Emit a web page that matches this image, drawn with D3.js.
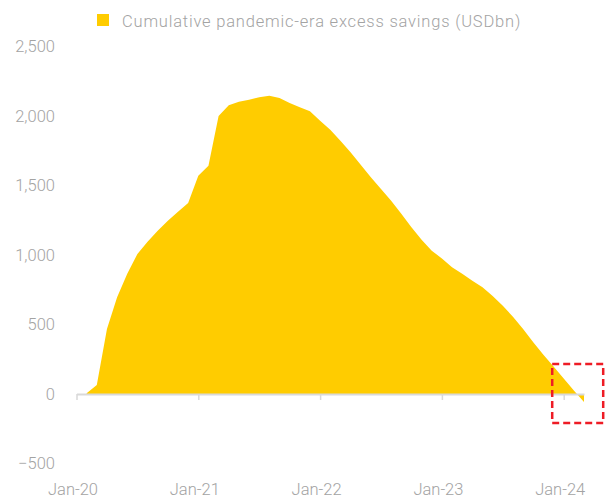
<!DOCTYPE html>
<html>
<head>
<meta charset="utf-8">
<script src="https://cdn.jsdelivr.net/npm/d3@7"></script>
<style>
  html, body { margin: 0; padding: 0; background: #fff; }
  svg text { font-family: Roboto, "Liberation Sans", sans-serif; font-weight: 300; fill: #a3a3a3; }
</style>
</head>
<body>
<svg id="chart" width="605" height="499"></svg>
<script>
// Monthly cumulative excess savings, Feb-2020 .. Mar-2024 (USD bn)
const months = [
  "2020-02","2020-03","2020-04","2020-05","2020-06","2020-07","2020-08","2020-09","2020-10","2020-11","2020-12",
  "2021-01","2021-02","2021-03","2021-04","2021-05","2021-06","2021-07","2021-08","2021-09","2021-10","2021-11","2021-12",
  "2022-01","2022-02","2022-03","2022-04","2022-05","2022-06","2022-07","2022-08","2022-09","2022-10","2022-11","2022-12",
  "2023-01","2023-02","2023-03","2023-04","2023-05","2023-06","2023-07","2023-08","2023-09","2023-10","2023-11","2023-12",
  "2024-01","2024-02","2024-03"
];
const savings = [
  5, 65, 468, 696, 865, 1007, 1095, 1175, 1247, 1312, 1374,
  1570, 1642, 2000, 2077, 2103, 2117, 2134, 2146, 2129, 2094, 2063, 2034,
  1966, 1901, 1822, 1739, 1650, 1559, 1474, 1391, 1297, 1199, 1110, 1031,
  975, 911, 865, 815, 768, 705, 635, 555, 468, 372, 283, 197,
  112, 25, -58
];
const xTickLabels = ["Jan-20", "Jan-21", "Jan-22", "Jan-23", "Jan-24"];
const yTicks = [-500, 0, 500, 1000, 1500, 2000, 2500];
const seriesName = "Cumulative pandemic-era excess savings (USDbn)";

const parseMonth = d3.utcParse("%Y-%m");
const data = months.map((m, i) => ({ date: parseMonth(m), value: savings[i] }));
// months since Jan-2020
const monthIndex = d => (d.getUTCFullYear() - 2020) * 12 + d.getUTCMonth();

const svg = d3.select("#chart");

const x = d3.scaleLinear().domain([0, 50]).range([76.5, 584]);
const y = d3.scaleLinear().domain([-500, 2500]).range([463.5, 46.5]);

// filled area relative to zero
const area = d3.area()
  .x(d => x(monthIndex(d.date)))
  .y0(y(0))
  .y1(d => y(d.value));

svg.append("path")
  .datum(data)
  .attr("fill", "#ffcc00")
  .attr("d", area);

// y-axis labels (no axis line)
const yAxis = d3.axisLeft(y)
  .tickValues(yTicks)
  .tickSize(0)
  .tickPadding(0)
  .tickFormat(d3.format(",d"));
const gy = svg.append("g").attr("transform", "translate(55,0)").call(yAxis);
gy.select(".domain").remove();
gy.selectAll("text")
  .attr("font-size", 16.5)
  .attr("fill", "#a3a3a3")
  .style("font-family", "Roboto, 'Liberation Sans', sans-serif")
  .style("font-weight", 300);

// x-axis along zero line
const xTickVals = xTickLabels.map((_, i) => i * 12);
const xAxis = d3.axisBottom(x)
  .tickValues(xTickVals)
  .tickSize(6)
  .tickSizeOuter(0)
  .tickFormat(() => "");
const gx = svg.append("g").attr("transform", `translate(0,${y(0)})`).call(xAxis);
gx.select(".domain").attr("stroke", "#d9d9d9").attr("stroke-width", 2);
gx.selectAll(".tick line").attr("stroke", "#d9d9d9").attr("stroke-width", 1.5);

// x labels at the bottom
svg.append("g").selectAll("text")
  .data(xTickLabels)
  .join("text")
  .attr("x", (d, i) => x(xTickVals[i]) - 3.5)
  .attr("y", 495)
  .attr("text-anchor", "middle")
  .attr("font-size", 16.5)
  .text(d => d);

// legend
const legend = svg.append("g");
legend.append("rect")
  .attr("x", 97).attr("y", 14)
  .attr("width", 12).attr("height", 12)
  .attr("fill", "#ffcc00");
legend.append("text")
  .attr("x", 122).attr("y", 27)
  .attr("font-size", 16.5)
  .attr("letter-spacing", 0.8)
  .text(seriesName);

// dashed highlight around the latest months
svg.append("rect")
  .attr("x", x(48) - 11.5)
  .attr("y", 364)
  .attr("width", 51)
  .attr("height", 59)
  .attr("fill", "none")
  .attr("stroke", "#ee1c25")
  .attr("stroke-width", 2.5)
  .attr("stroke-dasharray", "7,4");
</script>
</body>
</html>
